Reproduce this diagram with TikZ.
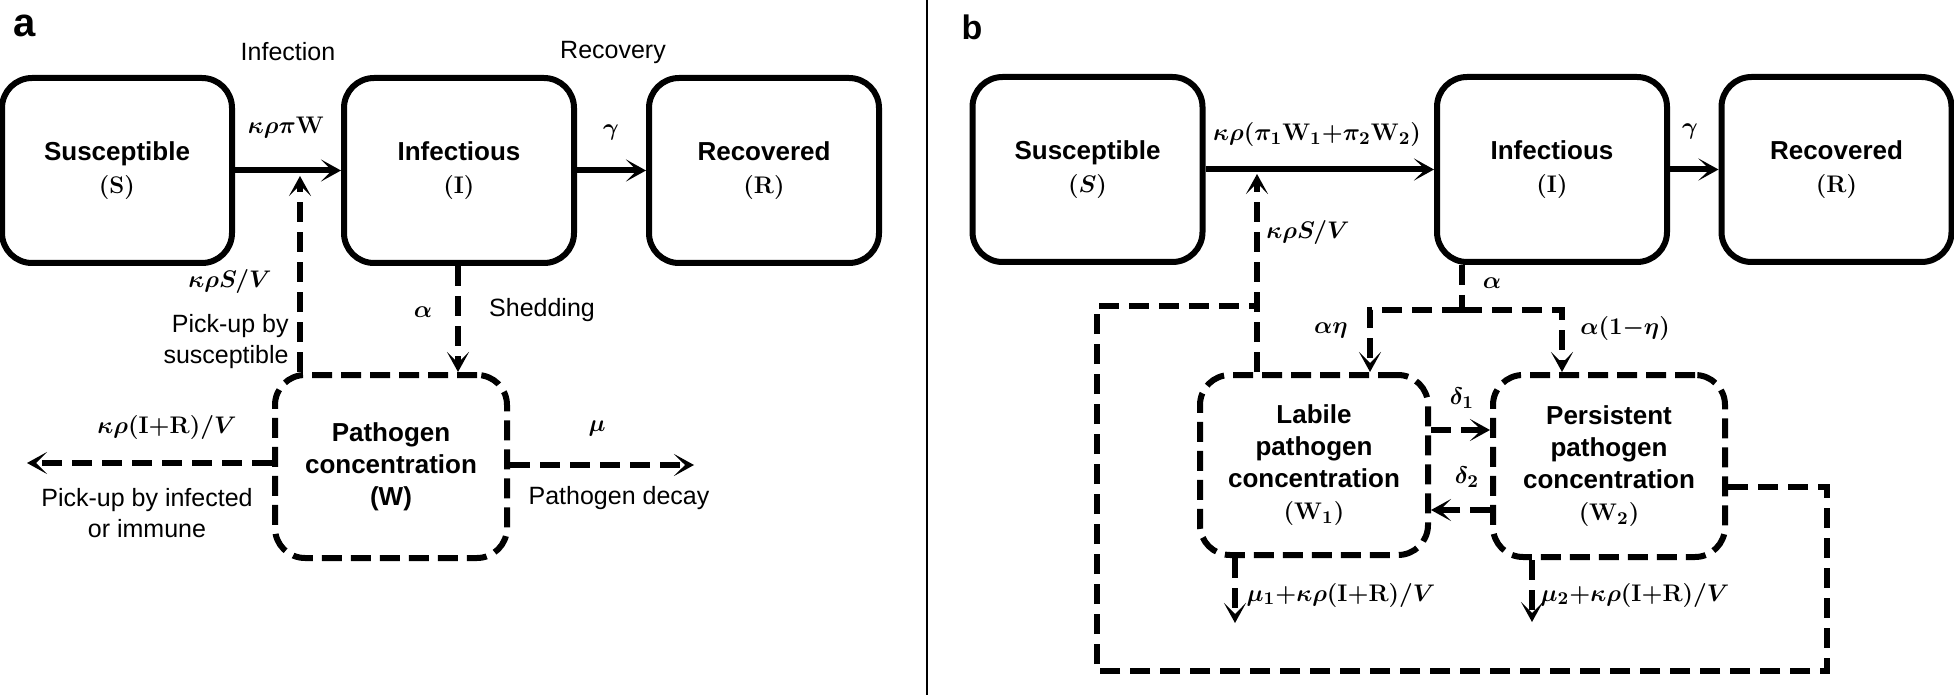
\documentclass[tikz,border=0pt]{standalone}
\usepackage[no-math]{fontspec}
\setmainfont{Liberation Sans}
\usetikzlibrary{arrows.meta}
\begin{document}
\begin{tikzpicture}[x=0.5pt,y=-0.5pt,
  box/.style={draw, line width=3pt, rounded corners=15pt, minimum width=115pt, minimum height=92.5pt, align=center, font=\fontsize{13}{16.5}\selectfont\bfseries\boldmath, inner sep=0pt},
  dbox/.style={box, dash pattern=on 10pt off 4.5pt, font=\fontsize{13}{16}\selectfont\bfseries\boldmath},
  lbl/.style={font=\fontsize{12.5}{15.5}\selectfont, inner sep=0pt, align=center},
  ml/.style={font=\fontsize{12.5}{15}\selectfont\boldmath, inner sep=0pt},
  panel/.style={font=\fontsize{20}{20}\selectfont\bfseries, inner sep=0pt},
  con/.style={line width=3pt, -{Stealth[length=10pt,width=11pt,inset=5.5pt]}},
  dcon/.style={con, dash pattern=on 10pt off 5pt},
  dline/.style={line width=3pt, dash pattern=on 10pt off 5pt},
]
\fill[white] (0,0) rectangle (1954,695);
\useasboundingbox (0,0) rectangle (1954,695);

% divider
\draw[line width=1pt] (927,0) -- (927,695);

% ---------------- panel a ----------------
\node[panel] (pa) at (25,26) {a};
\node[box] (Sa) at (117,170.5) {Susceptible\\$(\mathrm{S})$};
\node[box] (Ia) at (459,170.5) {Infectious\\$(\mathrm{I})$};
\node[box] (Ra) at (764,170.5) {Recovered\\$(\mathrm{R})$};
\node[dbox, minimum width=116pt, minimum height=91.5pt] (Wa) at (391,466.5) {Pathogen\\concentration\\(W)};

\node[lbl] (infl) at (288,52) {Infection};
\node[lbl] (recl) at (613,52) {Recovery};
\node[ml] (kpw) at (286,128) {$\kappa\rho\pi\mathrm{W}$};
\node[ml] (ga) at (611,133) {$\gamma$};
\node[ml] (ksa) at (230,282) {$\kappa\rho S/V$};
\node[lbl, align=right, anchor=east] (pus) at (289,342) {Pick-up by\\susceptible};
\node[ml] (ala) at (423,312) {$\alpha$};
\node[lbl] (shed) at (542,310) {Shedding};
\node[ml] (kira) at (167,427) {$\kappa\rho(\mathrm{I}{+}\mathrm{R})/V$};
\node[lbl] (pui) at (147,513) {Pick-up by infected\\or immune};
\node[ml] (mua) at (597,428) {$\mu$};
\node[lbl] (pdec) at (619,498) {Pathogen decay};

\draw[con] (Sa.east) -- (Ia.west);
\draw[con] (Ia.east) -- (Ra.west);
\coordinate (pkA) at (300,176);
\draw[dcon] (Wa.north -| pkA) -- (pkA);
\coordinate (shA) at (458,0);
\draw[dcon] (Ia.south -| shA) -- (Wa.north -| shA);
\coordinate (lA) at (27,463);
\draw[dcon] (Wa.west |- lA) -- (lA);
\coordinate (rA) at (694,465);
\draw[dcon] (Wa.east |- rA) -- (rA);

% ---------------- panel b ----------------
\node[panel, font=\fontsize{17}{17}\selectfont\bfseries] (pb) at (972,27) {b};
\node[box] (Sb) at (1087.5,169.5) {Susceptible\\$(S)$};
\node[box] (Ib) at (1552,169.5) {Infectious\\$(\mathrm{I})$};
\node[box] (Rb) at (1836.5,169.5) {Recovered\\$(\mathrm{R})$};
\node[dbox, minimum width=114pt, minimum height=90pt] (W1) at (1314,465) {Labile\\pathogen\\concentration\\$(\mathrm{W}_1)$};
\node[dbox, minimum width=116pt, minimum height=91pt] (W2) at (1609,466) {Persistent\\pathogen\\concentration\\$(\mathrm{W}_2)$};

\node[ml] (kpb) at (1317,135) {$\kappa\rho(\pi_1 \mathrm{W}_1{+}\pi_2 \mathrm{W}_2)$};
\node[ml] (gb) at (1690,132) {$\gamma$};
\node[ml] (ksb) at (1308,233) {$\kappa\rho S/V$};
\node[ml] (alb) at (1492,283) {$\alpha$};
\node[ml] (aeta) at (1331,331) {$\alpha\eta$};
\node[ml] (a1eta) at (1625,329) {$\alpha(1{-}\eta)$};
\node[ml] (d1l) at (1462,398) {$\delta_1$};
\node[ml] (d2l) at (1467,477) {$\delta_2$};
\node[ml] (m1l) at (1341,595) {$\mu_1{+}\kappa\rho(\mathrm{I}{+}\mathrm{R})/V$};
\node[ml] (m2l) at (1635,595) {$\mu_2{+}\kappa\rho(\mathrm{I}{+}\mathrm{R})/V$};

\draw[con] (Sb.east) -- (Ib.west);
\draw[con] (Ib.east) -- (Rb.west);
\coordinate (pkB) at (1257,174);
\draw[dcon] (W1.north -| pkB) -- (pkB);
\coordinate (lpR) at (1827,487);
\coordinate (lpL) at (1097,306);
\coordinate (lpB) at (0,671);
\draw[dline] (W2.east |- lpR) -- (lpR) |- (lpB -| lpL) -- (lpL) -- (pkB |- lpL);

\coordinate (aS) at (1462,310);
\coordinate (aL) at (1370,310);
\coordinate (aR) at (1562,310);
\draw[dline] (Ib.south -| aS) -- (aS);
\draw[dcon] (aS) -- (aL) -- (W1.north -| aL);
\draw[dcon] (aS) -- (aR) -- (W2.north -| aR);

\coordinate (d1) at (0,430);
\coordinate (d2) at (0,510);
\draw[dcon] (W1.east |- d1) -- (W2.west |- d1);
\draw[dcon] (W2.west |- d2) -- (W1.east |- d2);

\coordinate (m1) at (1235,623);
\coordinate (m2) at (1532,622);
\draw[dcon] (W1.south -| m1) -- (m1);
\draw[dcon] (W2.south -| m2) -- (m2);
\end{tikzpicture}
\end{document}
